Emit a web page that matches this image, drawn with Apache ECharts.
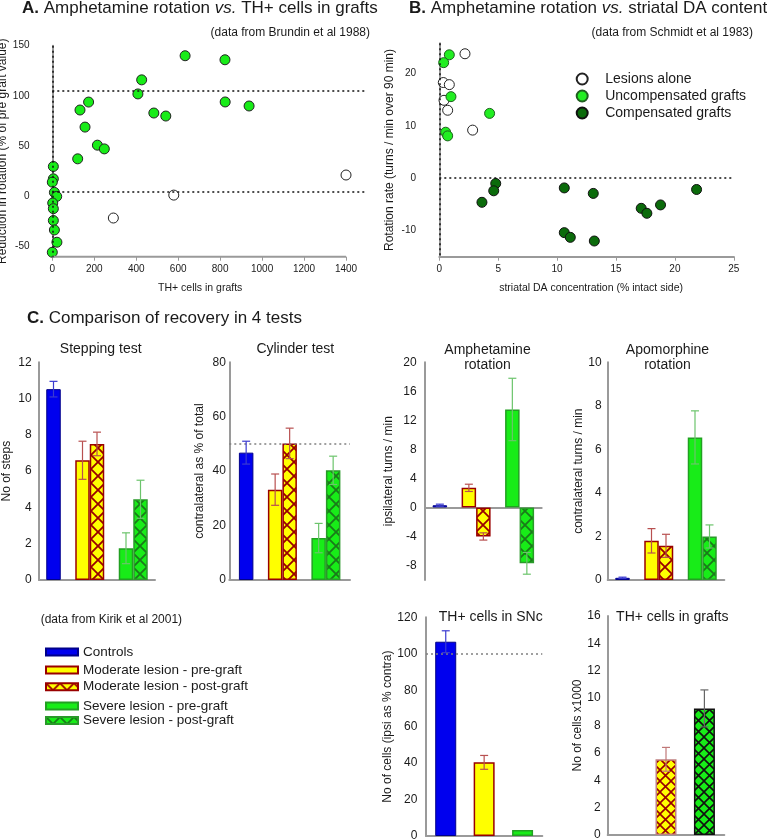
<!DOCTYPE html>
<html><head><meta charset="utf-8">
<script src="https://cdn.jsdelivr.net/npm/echarts@6/dist/echarts.min.js"></script>
<style>html,body{margin:0;padding:0;background:#fff}#c{width:767px;height:840px}</style>
</head><body><div id="c"></div>
<script>
// ---------- Panel A data (Brundin et al 1988) ----------
const aGraftX = [5,5,0,10,21,2,5,5,10,22,0,121,132,173,156,215,248,426,408,484,541,633,823,824,938];
const aGraftY = [29.8,17.5,14.2,4,0,-6.6,-12.2,-24,-33.4,-45.6,-55.6,37.4,86,93.9,69,51,47.3,116,102,83,80,140,136,94,90];
const aLesionX = [291,579,1400];
const aLesionY = [-21.5,1.3,21.3];
const aXTicks = [0,200,400,600,800,1000,1200,1400];
const aYTicks = [-50,0,50,100,150];
const aRefX = 0;
const aRefY = [105,5];

// ---------- Panel B data (Schmidt et al 1983) ----------
const bLesionX = [2.18,0.34,0.85,0.40,0.71,2.83];
const bLesionY = [23.8,18.3,17.9,14.9,13.0,9.2];
const bUncompX = [0.85,0.37,0.99,4.27,0.54,0.71];
const bUncompY = [23.6,22.1,15.6,12.4,8.8,8.1];
const bCompX = [4.79,4.62,3.62,10.61,13.07,21.84,10.61,11.12,13.16,17.14,17.62,18.78];
const bCompY = [-1.0,-2.4,-4.6,-1.85,-2.9,-2.15,-10.4,-11.3,-12.0,-5.75,-6.7,-5.1];
const bXTicks = [0,5,10,15,20,25];
const bYTicks = [-10,0,10,20];
const bRefX = 0;
const bRefY = 0;

// ---------- Panel C data (Kirik et al 2001) ----------
const groupNames = ['Controls','Moderate lesion - pre-graft','Moderate lesion - post-graft','Severe lesion - pre-graft','Severe lesion - post-graft'];
const stepMean = [10.52, 6.6, 7.5, 1.75, 4.45];
const stepSem  = [0.43, 1.05, 0.65, 0.85, 1.05];
const stepTicks = [0,2,4,6,8,10,12];
const cylMean = [46.8, 33.2, 50.2, 15.4, 40.3];
const cylSem  = [4.2, 5.75, 5.6, 5.4, 5.2];
const cylTicks = [0,20,40,60,80];
const cylRef = 50;
const amphMean = [0.3, 2.7, -4.0, 13.5, -7.7];
const amphSem  = [0.15, 0.5, 0.5, 4.3, 1.5];
const amphTicks = [-8,-4,0,4,8,12,16,20];
const apoMean = [0.1, 1.8, 1.57, 6.55, 2.0];
const apoSem  = [0.03, 0.56, 0.53, 1.22, 0.53];
const apoTicks = [0,2,4,6,8,10];
const sncNames = ['Controls','Moderate lesion - pre-graft','Severe lesion - pre-graft'];
const sncMean = [106.6, 40.4, 3.3];
const sncSem  = [6.0, 3.8, 0];
const sncTicks = [0,20,40,60,80,100,120];
const sncRef = 100;
const graftNames = ['Moderate lesion - post-graft','Severe lesion - post-graft'];
const graftMean = [5.53, 9.25];
const graftSem  = [0.87, 1.35];
const graftTicks = [0,2,4,6,8,10,12,14,16];

// ---------- styling helpers ----------
const FONT = '"Liberation Sans", Arial, Helvetica, sans-serif';
const TXT = '#1a1a1a';
const AXC = '#9a9a9a';
function hatch(bg, fg, s, w){
  const c = document.createElement('canvas'); c.width = s; c.height = s;
  const g = c.getContext('2d'); g.fillStyle = bg; g.fillRect(0,0,s,s);
  g.strokeStyle = fg; g.lineWidth = w; g.beginPath();
  g.moveTo(0,0); g.lineTo(s,s); g.moveTo(s,0); g.lineTo(0,s); g.stroke();
  return {image: c, repeat: 'repeat'};
}
const styleOf = {
  'Controls': {color:'#0000ee', borderColor:'#00008a', borderWidth:1},
  'Moderate lesion - pre-graft': {color:'#ffff00', borderColor:'#990000', borderWidth:1.5},
  'Moderate lesion - post-graft': {color:hatch('#ffff00','#990000',14,1.8), borderColor:'#990000', borderWidth:1.5},
  'Severe lesion - pre-graft': {color:'#18ec18', borderColor:'#22a022', borderWidth:1.5},
  'Severe lesion - post-graft': {color:hatch('#18ec18','#1a7a1a',14,1.8), borderColor:'#2a9a2a', borderWidth:1.5}
};
const graftStyleOf = {
  'Moderate lesion - post-graft': {color:hatch('#ffff00','#990000',11,1.6), borderColor:'#c08080', borderWidth:1.5},
  'Severe lesion - post-graft': {color:hatch('#18ec18','#111111',11,1.6), borderColor:'#111111', borderWidth:1.5}
};
const errColorOf = {
  'Controls':'#3a3ad0',
  'Moderate lesion - pre-graft':'#b85050','Moderate lesion - post-graft':'#b85050',
  'Severe lesion - pre-graft':'#6cc46c','Severe lesion - post-graft':'#6cc46c'
};
const graftErrColorOf = {'Moderate lesion - post-graft':'#c07878','Severe lesion - post-graft':'#666666'};

function errSeries(k, names, means, sems, slots, nSlots, bw, gap, colors){
  return {type:'custom', xAxisIndex:k, yAxisIndex:k, z:5, silent:true,
    data: means.map((m,i)=>[0, m, sems[i]]),
    encode:{x:0, y:1},
    renderItem(params, api){
      const i = params.dataIndex, m = api.value(1), s = api.value(2);
      if (!s) return {type:'group', children:[]};
      const p1 = api.coord([0, m+s]), p2 = api.coord([0, m-s]);
      const cx = p1[0] + (slots[i] - (nSlots-1)/2)*(bw+gap);
      const st = {stroke: colors[names[i]], lineWidth:1.2};
      const cap = 4;
      return {type:'group', children:[
        {type:'line', shape:{x1:cx,y1:p1[1],x2:cx,y2:p2[1]}, style:st},
        {type:'line', shape:{x1:cx-cap,y1:p1[1],x2:cx+cap,y2:p1[1]}, style:st},
        {type:'line', shape:{x1:cx-cap,y1:p2[1],x2:cx+cap,y2:p2[1]}, style:st}]};
    }};
}
function barSeries(k, name, value, bw, gap, styles){
  const o = {type:'bar', xAxisIndex:k, yAxisIndex:k, barWidth:bw, barGap:gap};
  if (name === null) return Object.assign(o, {name:'', data:['-'], silent:true});
  return Object.assign(o, {name:name, data:[value], itemStyle:(styles||styleOf)[name]});
}
function refLine(v){
  return {silent:true, symbol:['none','none'], label:{show:false},
    lineStyle:{color:'#808080', type:[2,3], width:1.5}, data:[{yAxis:v}]};
}
// top row: 7 slots (controls, gap, mod pre, mod post, gap, sev pre, sev post)
function topPanel(k, means, sems, ref){
  const slotGroup = [0,null,1,2,null,3,4];
  const out = slotGroup.map(g => barSeries(k, g===null?null:groupNames[g], g===null?null:means[g], 14.5, '0%'));
  if (ref !== undefined) out[0].markLine = refLine(ref);
  out.push(errSeries(k, groupNames, means, sems, [0,2,3,5,6], 7, 14.5, 0, errColorOf));
  return out;
}

const scatterDotted = {color:'#111', type:[2,3], width:1.5};
const series = [
  {type:'line', name:'', xAxisIndex:0, yAxisIndex:0, silent:true, symbol:'none', clip:false,
   lineStyle:{color:AXC, width:2}, data:[[aXTicks[0],-60],[aXTicks[aXTicks.length-1],-60]]},
  {type:'scatter', name:'Grafted (Brundin)', xAxisIndex:0, yAxisIndex:0, symbolSize:10,
   itemStyle:{color:'#18ec18', borderColor:'#222', borderWidth:1, opacity:1},
   data: aGraftX.map((x,i)=>[x, aGraftY[i]])},
  {type:'scatter', name:'Lesion only (Brundin)', xAxisIndex:0, yAxisIndex:0, symbolSize:10,
   itemStyle:{color:'#ffffff', borderColor:'#222', borderWidth:1, opacity:1},
   data: aLesionX.map((x,i)=>[x, aLesionY[i]]),
   markLine:{silent:true, symbol:['none','none'], label:{show:false}, lineStyle:scatterDotted,
     data:[
       [{coord:[aRefX,150]},{coord:[aRefX,-60]}],
       [{coord:[aRefX,aRefY[0]]},{coord:[1500,aRefY[0]]}],
       [{coord:[aRefX,aRefY[1]]},{coord:[1500,aRefY[1]]}]
     ]}},
  {type:'scatter', name:'Lesions alone', xAxisIndex:1, yAxisIndex:1, symbolSize:10,
   itemStyle:{color:'#ffffff', borderColor:'#222', borderWidth:1, opacity:1},
   data: bLesionX.map((x,i)=>[x, bLesionY[i]]),
   markLine:{silent:true, symbol:['none','none'], label:{show:false}, lineStyle:scatterDotted,
     data:[
       [{coord:[bRefX,25.8]},{coord:[bRefX,-15]}],
       [{coord:[bRefX,bRefY]},{coord:[25,bRefY]}]
     ]}},
  {type:'scatter', name:'Uncompensated grafts', xAxisIndex:1, yAxisIndex:1, symbolSize:10,
   itemStyle:{color:'#22ee22', borderColor:'#1f5f1f', borderWidth:1, opacity:1},
   data: bUncompX.map((x,i)=>[x, bUncompY[i]])},
  {type:'scatter', name:'Compensated grafts', xAxisIndex:1, yAxisIndex:1, symbolSize:10,
   itemStyle:{color:'#0b6b0b', borderColor:'#111', borderWidth:1, opacity:1},
   data: bCompX.map((x,i)=>[x, bCompY[i]])}
];
series.push(...topPanel(2, stepMean, stepSem));
series.push(...topPanel(3, cylMean, cylSem, cylRef));
series.push(...topPanel(4, amphMean, amphSem));
series.push(...topPanel(5, apoMean, apoSem));
// SNc: 3 slots
const snc = sncNames.map((n,i)=>barSeries(6, n, sncMean[i], 21, '83%'));
snc[0].markLine = refLine(sncRef);
series.push(...snc, errSeries(6, sncNames, sncMean, sncSem, [0,1,2], 3, 21, 17.4, errColorOf));
// grafts: empty control slot then 2 bars
series.push(barSeries(7, null, null, 21, '83%'));
graftNames.forEach((n,i)=>series.push(barSeries(7, n, graftMean[i], 21, '83%', graftStyleOf)));
series.push(errSeries(7, graftNames, graftMean, graftSem, [1,2], 3, 21, 17.4, graftErrColorOf));

const gridBoxes = [
  [52.3, 45.7, 314.7, 211],
  [439.3, 43.3, 294.5, 213.4],
  [39, 362.3, 116, 217.7],
  [229.3, 362.3, 120.7, 217.7],
  [425, 362.3, 116.7, 217.7],
  [607.7, 362.3, 116.6, 217.7],
  [426, 617.3, 116.3, 218.7],
  [607.7, 616, 116.6, 219]
];
const grids = gridBoxes.map(b => ({left:b[0], top:b[1], width:b[2], height:b[3], containLabel:false, outerBoundsMode:'none'}));
const plain = v => String(v);
const tickLbl = {fontSize:10, color:TXT, fontFamily:FONT, formatter:plain};
const xAxes = [
  {type:'value', gridIndex:0, min:0, max:1500, axisLine:{show:false, onZero:false},
   axisTick:{show:true, customValues:aXTicks, length:4, lineStyle:{color:AXC, width:1}},
   axisLabel:Object.assign({customValues:aXTicks, margin:8}, tickLbl), splitLine:{show:false},
   name:'TH+ cells in grafts', nameLocation:'middle', nameGap:26,
   nameTextStyle:{fontSize:10.5, color:TXT, fontFamily:FONT, padding:[0,19,0,0]}},
  {type:'value', gridIndex:1, min:0, max:25,
   axisLine:{show:true, onZero:false, lineStyle:{color:AXC, width:2}},
   axisTick:{show:true, customValues:bXTicks, length:4, lineStyle:{color:AXC, width:1}},
   axisLabel:Object.assign({customValues:bXTicks, margin:8}, tickLbl), splitLine:{show:false},
   name:'striatal DA concentration (% intact side)', nameLocation:'middle', nameGap:26,
   nameTextStyle:{fontSize:10.5, color:TXT, fontFamily:FONT, padding:[0,0,0,9]}}
];
for (let k=2;k<8;k++){
  xAxes.push({type:'category', gridIndex:k, data:[''], axisLine:{show:true, lineStyle:{color:AXC, width:2}},
    axisTick:{show:false}, axisLabel:{show:false}, splitLine:{show:false}});
}
function yBar(k, min, max, ticks, name, gap, margin){
  return {type:'value', gridIndex:k, min:min, max:max,
    axisLine:{show:true, lineStyle:{color:AXC, width:2}}, axisTick:{show:false},
    axisLabel:{customValues:ticks, fontSize:12, color:TXT, fontFamily:FONT, margin:margin, formatter:plain},
    splitLine:{show:false}, name:name, nameLocation:'middle', nameRotate:90, nameGap:gap,
    nameTextStyle:{fontSize:12, color:TXT, fontFamily:FONT}};
}
const yAxes = [
  {type:'value', gridIndex:0, min:-60, max:150, offset:14.3,
   axisLine:{show:true, lineStyle:{color:AXC, width:2}}, axisTick:{show:false},
   axisLabel:Object.assign({customValues:aYTicks, margin:8.5}, tickLbl), splitLine:{show:false},
   name:'Reduction in rotation (% of pre graft value)', nameLocation:'middle', nameRotate:90, nameGap:24,
   nameTextStyle:{fontSize:12, color:TXT, fontFamily:FONT}},
  {type:'value', gridIndex:1, min:-15, max:25.8, offset:14.3,
   axisLine:{show:true, lineStyle:{color:AXC, width:2}}, axisTick:{show:false},
   axisLabel:Object.assign({customValues:bYTicks, margin:9}, tickLbl), splitLine:{show:false},
   name:'Rotation rate (turns / min over 90 min)', nameLocation:'middle', nameRotate:90, nameGap:29,
   nameTextStyle:{fontSize:12, color:TXT, fontFamily:FONT}},
  yBar(2, 0, 12, stepTicks, 'No of steps', 26, 7.3),
  yBar(3, 0, 80, cylTicks, 'contralateral as % of total', 24, 3.5),
  yBar(4, -10, 20, amphTicks, 'ipsilateral turns / min', 30, 8.3),
  yBar(5, 0, 10, apoTicks, 'contralateral turns / min', 22.7, 6),
  yBar(6, 0, 120, sncTicks, 'No of cells (ipsi as % contra)', 30.7, 8.7),
  yBar(7, 0, 16, graftTicks, 'No of cells x1000', 23.4, 7)
];

const rich = {b:{fontSize:17, fontWeight:'bold', fontFamily:FONT, color:TXT}, i:{fontSize:17, fontStyle:'italic', fontFamily:FONT, color:TXT}};
function head(text, left, top){ return {text, left, top, padding:0, textStyle:{fontSize:17, fontWeight:'normal', fontFamily:FONT, color:TXT, rich}}; }
function note(text, left, top, align){ return {text, left, top, padding:0, textAlign:align, textStyle:{fontSize:12, fontWeight:'normal', fontFamily:FONT, color:TXT}}; }
function sub(text, left, top){ return {text, left, top, padding:0, textAlign:'center', textStyle:{fontSize:14, fontWeight:'normal', fontFamily:FONT, color:TXT, lineHeight:15.5}}; }
const titles = [
  head('{b|A.} Amphetamine rotation {i|vs.} TH+ cells in grafts', 22, 0),
  head('{b|B.} Amphetamine rotation {i|vs.} striatal DA content', 409, 0),
  head('{b|C.} Comparison of recovery in 4 tests', 27, 310),
  note('(data from Brundin et al 1988)', 370, 27, 'right'),
  note('(data from Schmidt et al 1983)', 753, 27, 'right'),
  note('(data from Kirik et al 2001)', 40.7, 614, 'left'),
  sub('Stepping test', 100.7, 341),
  sub('Cylinder test', 295.3, 341),
  sub('Amphetamine\nrotation', 487.5, 342),
  sub('Apomorphine\nrotation', 667.5, 342),
  sub('TH+ cells in SNc', 490.7, 609),
  sub('TH+ cells in grafts', 672.3, 609)
];
const legTxt = {fontSize:13.5, color:TXT, fontFamily:FONT};
const legends = [
  {data:['Lesions alone','Uncompensated grafts','Compensated grafts'], orient:'vertical', left:575.7, top:72,
   itemWidth:36, itemHeight:11, itemGap:3, icon:'circle', padding:0, selectedMode:false,
   textStyle:{fontSize:14, color:TXT, fontFamily:FONT}},
  {data:['Controls'], orient:'vertical', left:45, top:645, itemWidth:32, itemHeight:7, icon:'rect', padding:0, selectedMode:false, textStyle:legTxt},
  {data:['Moderate lesion - pre-graft','Moderate lesion - post-graft'], orient:'vertical', left:45, top:663, itemWidth:32, itemHeight:7, itemGap:2.7, icon:'rect', padding:0, selectedMode:false, textStyle:legTxt},
  {data:['Severe lesion - pre-graft','Severe lesion - post-graft'], orient:'vertical', left:45, top:699, itemWidth:32, itemHeight:7, itemGap:0.5, icon:'rect', padding:0, selectedMode:false, textStyle:legTxt}
];

const chart = echarts.init(document.getElementById('c'), null, {renderer:'canvas'});
chart.setOption({
  animation:false, backgroundColor:'#ffffff',
  textStyle:{fontFamily:FONT},
  title:titles, legend:legends, grid:grids, xAxis:xAxes, yAxis:yAxes, series:series
});
</script>
</body></html>
